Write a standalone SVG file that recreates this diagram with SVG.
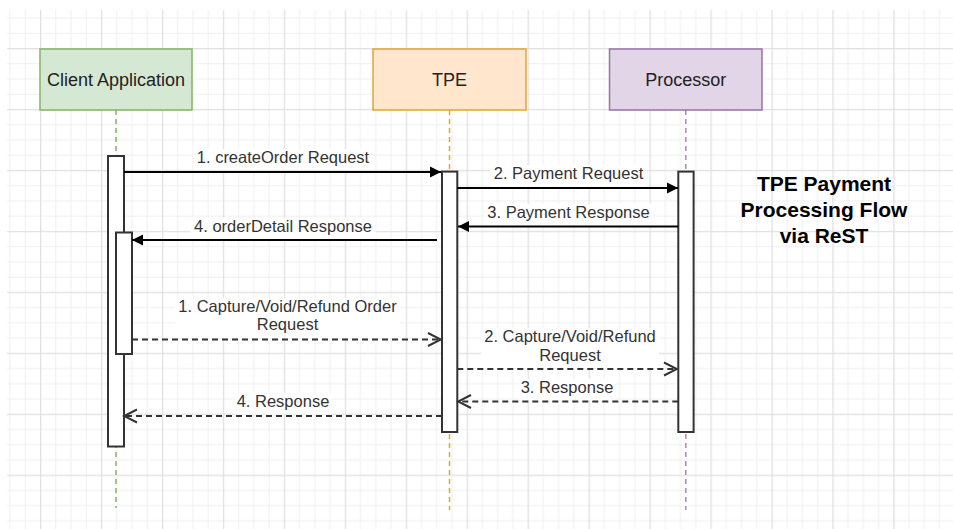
<svg xmlns="http://www.w3.org/2000/svg" width="953" height="529" viewBox="0 0 953 529">
  <defs>
    <pattern id="grid" patternUnits="userSpaceOnUse" x="40" y="48" width="60.95" height="60.95">
      <rect x="0" y="0" width="60.95" height="60.95" fill="#ffffff"/>
      <g fill="#f0f0f0">
        <rect x="15.24" y="0" width="1" height="60.95"/>
        <rect x="30.48" y="0" width="1" height="60.95"/>
        <rect x="45.71" y="0" width="1" height="60.95"/>
        <rect x="0" y="15.24" width="60.95" height="1"/>
        <rect x="0" y="30.48" width="60.95" height="1"/>
        <rect x="0" y="45.71" width="60.95" height="1"/>
      </g>
      <g fill="#e1e1e1">
        <rect x="0" y="0" width="1.3" height="60.95"/>
        <rect x="0" y="0" width="60.95" height="1.3"/>
      </g>
    </pattern>
    <marker id="solid" markerUnits="userSpaceOnUse" markerWidth="12" markerHeight="12" refX="11" refY="6" orient="auto">
      <path d="M0,0.5 L11,6 L0,11.5 Z" fill="#000000"/>
    </marker>
    <marker id="open" markerUnits="userSpaceOnUse" markerWidth="16" markerHeight="16" refX="14" refY="8" orient="auto">
      <path d="M1,1.5 L14,8 L1,14.5" fill="none" stroke="#333333" stroke-width="2"/>
    </marker>
  </defs>
  <style>
    .actor { stroke-width: 1.5; }
    .actor-text { font-family: "Liberation Sans", Arial, sans-serif; font-size: 18px; fill: #222222; text-anchor: middle; }
    .lifeline { fill: none; stroke-width: 1.5; stroke-dasharray: 5 4; }
    .act { fill: #ffffff; stroke: #333333; stroke-width: 2; }
    .msg { fill: none; stroke: #000000; stroke-width: 2; }
    .ret { fill: none; stroke: #333333; stroke-width: 2; stroke-dasharray: 6 4; }
    .lbl { font-family: "Liberation Sans", Arial, sans-serif; font-size: 16.5px; fill: #333333; text-anchor: middle; }
    .lblbg { fill: #ffffff; }
    .title { font-family: "Liberation Sans", Arial, sans-serif; font-size: 21px; font-weight: bold; fill: #000000; text-anchor: middle; }
  </style>

  <rect x="7" y="10" width="946" height="519" fill="url(#grid)"/>

  <!-- lifelines -->
  <g id="lifelines">
    <line class="lifeline" x1="116" y1="110" x2="116" y2="508" stroke="#82b366"/>
    <line class="lifeline" x1="449.5" y1="110" x2="449.5" y2="510" stroke="#e0a82e"/>
    <line class="lifeline" x1="685.8" y1="110" x2="685.8" y2="510" stroke="#a68bb6"/>
  </g>

  <g id="client">
    <rect class="actor" x="40" y="49" width="152" height="61" fill="#d5e8d4" stroke="#82b366"/>
    <text class="actor-text" x="116" y="85.5">Client Application</text>
    <rect class="act" x="108" y="156" width="16" height="290.5"/>
    <rect class="act" x="116" y="232.5" width="16" height="121.5"/>
  </g>

  <g id="tpe">
    <rect class="actor" x="373" y="49" width="153" height="61" fill="#ffe6cc" stroke="#e0a82e"/>
    <text class="actor-text" x="449.5" y="85.5">TPE</text>
    <rect class="act" x="442" y="171.6" width="15.3" height="260.4"/>
  </g>

  <g id="processor">
    <rect class="actor" x="609.5" y="49" width="152.5" height="61" fill="#e1d5e7" stroke="#9673a6"/>
    <text class="actor-text" x="685.8" y="85.5">Processor</text>
    <rect class="act" x="678.3" y="171.6" width="15.3" height="260.4"/>
  </g>

  <g id="connectors">
    <path class="msg" d="M124,172 L441,172" marker-end="url(#solid)"/>
    <path class="msg" d="M457.3,188 L678,188" marker-end="url(#solid)"/>
    <path class="msg" d="M678.3,226.5 L458,226.5" marker-end="url(#solid)"/>
    <path class="msg" d="M437,240 L132,240" marker-end="url(#solid)"/>
    <path class="ret" d="M132,339.5 L441,339.5" marker-end="url(#open)"/>
    <path class="ret" d="M457.3,369 L677,369" marker-end="url(#open)"/>
    <path class="ret" d="M678.3,401.5 L458,401.5" marker-end="url(#open)"/>
    <path class="ret" d="M442,416 L124,416" marker-end="url(#open)"/>
  </g>

  <g id="labels">
    <rect class="lblbg" x="194" y="149" width="178" height="21"/>
    <text class="lbl" x="283" y="163">1. createOrder Request</text>
    <rect class="lblbg" x="490" y="165" width="157" height="21.5"/>
    <text class="lbl" x="568.5" y="179">2. Payment Request</text>
    <rect class="lblbg" x="484" y="204" width="169" height="21"/>
    <text class="lbl" x="568.5" y="217.5">3. Payment Response</text>
    <rect class="lblbg" x="190" y="218" width="186" height="21"/>
    <text class="lbl" x="283" y="231.7">4. orderDetail Response</text>
    <rect class="lblbg" x="175" y="298" width="225" height="40"/>
    <text class="lbl" x="287.5" y="311.7">1. Capture/Void/Refund Order</text>
    <text class="lbl" x="287.5" y="330">Request</text>
    <rect class="lblbg" x="481" y="328" width="178" height="40"/>
    <text class="lbl" x="570" y="342">2. Capture/Void/Refund</text>
    <text class="lbl" x="570" y="360.8">Request</text>
    <rect class="lblbg" x="519" y="379" width="96" height="21"/>
    <text class="lbl" x="567" y="393">3. Response</text>
    <rect class="lblbg" x="235" y="393" width="96" height="21.5"/>
    <text class="lbl" x="283" y="407.3">4. Response</text>
  </g>

  <g id="title">
    <text class="title" x="824" y="191">TPE Payment</text>
    <text class="title" x="824" y="217">Processing Flow</text>
    <text class="title" x="824" y="243">via ReST</text>
  </g>
</svg>
